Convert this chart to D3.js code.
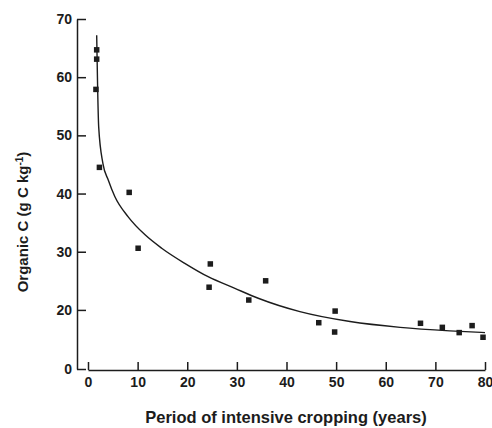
<!DOCTYPE html>
<html>
<head>
<meta charset="utf-8">
<script src="https://cdn.jsdelivr.net/npm/d3@7"></script>
<style>
  body { margin: 0; background: #fff; }
  text { font-family: "Liberation Sans", Arial, sans-serif; fill: #1c1c1c; }
</style>
</head>
<body>
<div id="chart"></div>
<script>
const width = 492;
const height = 428;

// measured points: years of cropping vs organic C
const years = [1.6, 1.75, 1.75, 2.3, 8.3, 10.1, 24.4, 24.65, 32.4, 35.8, 46.5, 49.8, 49.7, 67.0, 71.4, 74.8, 77.4, 79.6];
const organicC = [57.9, 64.7, 63.1, 44.5, 40.2, 30.6, 23.9, 27.9, 21.7, 25.0, 17.8, 19.8, 16.2, 17.7, 17.0, 16.1, 17.3, 15.3];

// fitted curve
const curveYears = [1.75, 1.95, 2.15, 3.0, 4.1, 5.4, 8.1, 11.5, 14.85, 19.5, 24.2, 29.6, 34.3, 42.7, 52.8, 62.9, 72.9, 80];
const curveC = [67.2, 57.8, 51.5, 45.2, 42.3, 39.5, 36.0, 32.9, 30.6, 28.0, 25.7, 23.7, 22.0, 19.7, 18.0, 17.0, 16.4, 16.1];

const xTicks = [0, 10, 20, 30, 40, 50, 60, 70, 80];
const yTicks = [0, 20, 30, 40, 50, 60, 70];

const svg = d3.select('#chart')
  .append('svg')
  .attr('width', width)
  .attr('height', height);

const xScale = d3.scaleLinear()
  .domain([0, 80])
  .range([88, 485]);

// y axis is broken: 0 sits just below the lowest values
const yScale = d3.scaleLinear()
  .domain([0, 15, 70])
  .range([369, 339, 19]);

const yAxisX = 77;
const xAxisY = 370;

const xAxis = d3.axisBottom(xScale)
  .tickValues(xTicks)
  .tickSizeInner(-8)
  .tickSizeOuter(0)
  .tickPadding(7);

const yAxis = d3.axisLeft(yScale)
  .tickValues(yTicks)
  .tickSizeInner(-9)
  .tickSizeOuter(0)
  .tickPadding(5);

const gx = svg.append('g')
  .attr('transform', 'translate(0,' + xAxisY + ')')
  .call(xAxis);

const gy = svg.append('g')
  .attr('transform', 'translate(' + yAxisX + ',0)')
  .call(yAxis);

[gx, gy].forEach(g => {
  g.selectAll('path, line').attr('stroke', '#1c1c1c').attr('stroke-width', 1.5);
  g.selectAll('text')
    .style('font-size', '14px')
    .style('font-weight', 'bold')
    .attr('fill', '#1c1c1c');
});

// fitted curve
const line = d3.line()
  .x((d, i) => xScale(d))
  .y((d, i) => yScale(curveC[i]))
  .curve(d3.curveMonotoneX);

svg.append('path')
  .datum(curveYears)
  .attr('d', line)
  .attr('fill', 'none')
  .attr('stroke', '#1c1c1c')
  .attr('stroke-width', 1.4);

const size = 5.5;
svg.selectAll('rect.pt')
  .data(years)
  .enter()
  .append('rect')
  .attr('class', 'pt')
  .attr('x', d => xScale(d) - size / 2)
  .attr('y', (d, i) => yScale(organicC[i]) - size / 2)
  .attr('width', size)
  .attr('height', size)
  .attr('fill', '#1c1c1c');

// axis titles
svg.append('text')
  .attr('x', 286)
  .attr('y', 423)
  .attr('text-anchor', 'middle')
  .style('font-size', '16.5px')
  .style('font-weight', 'bold')
  .text('Period of intensive cropping (years)');

const yTitle = svg.append('text')
  .attr('transform', 'translate(28,222) rotate(-90)')
  .attr('text-anchor', 'middle')
  .style('font-size', '15px')
  .style('font-weight', 'bold');
yTitle.append('tspan').text('Organic C (g C kg');
yTitle.append('tspan').attr('dy', -5).style('font-size', '10px').text('-1');
yTitle.append('tspan').attr('dy', 5).text(')');
</script>
</body>
</html>
